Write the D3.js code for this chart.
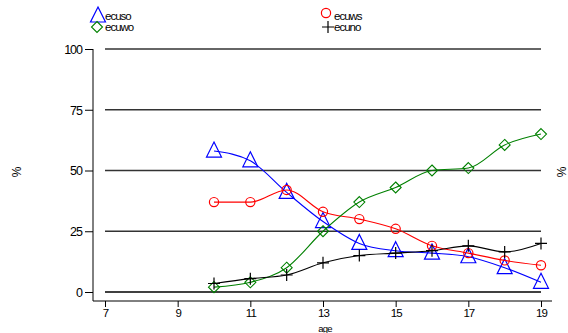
<!DOCTYPE html>
<html><head><meta charset="utf-8">
<script src="https://cdn.jsdelivr.net/npm/d3@7"></script>
<style>body{margin:0;background:#fff}svg text{font-family:"Liberation Sans",Arial,sans-serif}</style>
</head><body><svg id="c" width="568" height="333"></svg>
<script>
const ages = [10,11,12,13,14,15,16,17,18,19];
const ecuso = [58,54,41,29,20,17,16,14.5,10,4];
const ecuws = [37,37,42,33,30,26,19,16,13,11];
const ecuwo = [2,4,10,25,37,43,50,51,60.5,65];
const ecuno = [3.5,5.5,7,12,15,16,17,19,16.5,20];
const xTicks = [7,9,11,13,15,17,19];
const yTicks = [0,25,50,75,100];

const svg = d3.select("#c");
const x = d3.scaleLinear().domain([7,19]).range([105,541]);
const y = d3.scaleLinear().domain([0,100]).range([292,49]);

// gridlines
svg.append("g").selectAll("line").data(yTicks).join("line")
  .attr("x1",x(7)).attr("x2",x(19)).attr("y1",d=>y(d)).attr("y2",d=>y(d))
  .attr("stroke",d=>d===0?"#000":"#333").attr("stroke-width",1.3);

// y axis
const ya = svg.append("g").attr("transform","translate(93,0)")
  .call(d3.axisLeft(y).tickValues(yTicks).tickSize(8).tickPadding(3));
ya.select(".domain").attr("d","M0,"+y(100)+"V301").attr("stroke","#000");
ya.selectAll("text").attr("font-size",12.5).attr("letter-spacing",-1).attr("fill","#000").attr("dy","0.35em");

// x axis
const xa = svg.append("g").attr("transform","translate(0,301)")
  .call(d3.axisBottom(x).tickValues(xTicks).tickSize(6).tickPadding(2));
xa.select(".domain").attr("d","M93,0H552").attr("stroke","#000");
xa.selectAll("text").attr("font-size",11.5).attr("letter-spacing",-1).attr("fill","#000");

svg.append("text").attr("x",325).attr("y",331.5).attr("text-anchor","middle").attr("font-size",9.5).attr("letter-spacing",-0.8).text("age");
svg.append("text").attr("transform","translate(21,172) rotate(-90)").attr("text-anchor","middle").attr("font-size",12).text("%");
svg.append("text").attr("transform","translate(566,172) rotate(-90)").attr("text-anchor","middle").attr("font-size",12).text("%");

const line = d3.line().x((d,i)=>x(ages[i])).y(d=>y(d)).curve(d3.curveMonotoneX);
const series = [
  {vals:ecuso,color:"#0000ff",shape:"tri"},
  {vals:ecuws,color:"#ff0000",shape:"circ"},
  {vals:ecuwo,color:"#008000",shape:"dia"},
  {vals:ecuno,color:"#000000",shape:"plus"}
];
function marker(g,shape,color){
  if(shape==="tri") g.append("path").attr("d","M0,-9L7.5,6H-7.5Z").attr("fill","none").attr("stroke",color).attr("stroke-width",1.2);
  if(shape==="circ") g.append("circle").attr("r",4.6).attr("fill","none").attr("stroke",color).attr("stroke-width",1.2);
  if(shape==="dia") g.append("path").attr("d","M0,-5.5L5.5,0L0,5.5L-5.5,0Z").attr("fill","none").attr("stroke",color).attr("stroke-width",1.1);
  if(shape==="plus") g.append("path").attr("d","M-6,0H6M0,-6V6").attr("fill","none").attr("stroke",color).attr("stroke-width",1.2);
}
series.forEach(s=>{
  svg.append("path").datum(s.vals).attr("d",line).attr("fill","none").attr("stroke",s.color).attr("stroke-width",1.1);
  s.vals.forEach((v,i)=>{
    const g = svg.append("g").attr("transform",`translate(${x(ages[i])},${y(v)})`);
    marker(g,s.shape,s.color);
  });
});

// legend
const legend = [
  {name:"ecuso",shape:"tri",color:"#0000ff",mx:98,my:16,tx:105,ty:20},
  {name:"ecuwo",shape:"dia",color:"#008000",mx:97,my:27,tx:105,ty:31},
  {name:"ecuws",shape:"circ",color:"#ff0000",mx:326,my:13,tx:334,ty:20},
  {name:"ecuno",shape:"plus",color:"#000000",mx:328,my:27,tx:334,ty:31}
];
legend.forEach(l=>{
  const g = svg.append("g").attr("transform",`translate(${l.mx},${l.my})`);
  marker(g,l.shape,l.color);
  svg.append("text").attr("x",l.tx).attr("y",l.ty).attr("font-size",11.5).attr("letter-spacing",-1).text(l.name);
});
</script></body></html>
